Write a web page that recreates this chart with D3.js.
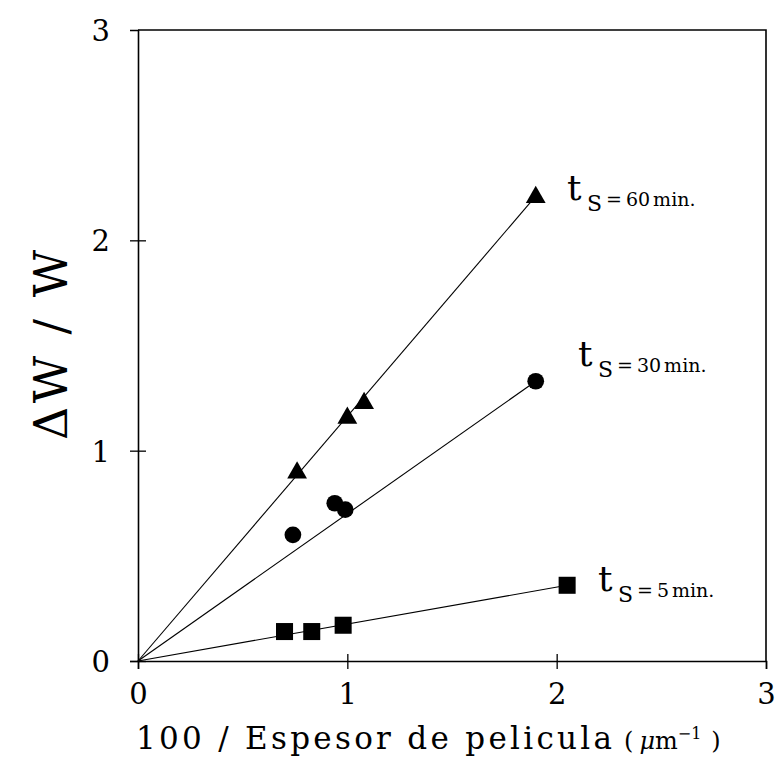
<!DOCTYPE html>
<html>
<head>
<meta charset="utf-8">
<script src="https://cdn.jsdelivr.net/npm/d3@7"></script>
<style>
  html, body { margin: 0; padding: 0; background: #fff; }
  svg text { font-family: "DejaVu Serif", "Liberation Serif", serif; fill: #000; }
</style>
</head>
<body>
<svg id="chart" width="780" height="779"></svg>
<script>
// Film thickness (100/µm) vs. relative weight gain for three soaking times
const xTicks = [0, 1, 2, 3];
const yTicks = [0, 1, 2, 3];

const seriesNames = ["60", "30", "5"];
const seriesShapes = ["triangle", "circle", "square"];

const x60 = [0.76, 1.00, 1.08, 1.90];
const y60 = [0.90, 1.16, 1.23, 2.21];

const x30 = [0.74, 0.94, 0.99, 1.90];
const y30 = [0.60, 0.75, 0.72, 1.33];

const x5 = [0.70, 0.83, 0.98, 2.05];
const y5 = [0.14, 0.14, 0.17, 0.36];

// fitted lines through the origin, drawn up to the last point of each series
const fitStart = [[0, 0], [0, 0], [0, 0]];
const fitEnd = [[1.90, 2.21], [1.90, 1.33], [2.05, 0.36]];

const seriesX = [x60, x30, x5];
const seriesY = [y60, y30, y5];

const svg = d3.select("#chart");
const x = d3.scaleLinear().domain([0, 3]).range([138, 766]);
const y = d3.scaleLinear().domain([0, 3]).range([661, 30]);

// frame
svg.append("path")
  .attr("d", `M${x(0)},${y(3)}H${x(3)}V${y(0)}`)
  .attr("fill", "none").attr("stroke", "#000").attr("stroke-width", 1.6);

// bottom axis with ticks crossing the line
const gx = svg.append("g").attr("transform", `translate(0,${y(0)})`)
  .call(d3.axisBottom(x).tickValues(xTicks).tickFormat(d3.format("d")).tickSize(8).tickPadding(14));
gx.select(".domain").attr("stroke-width", 1.6);
gx.selectAll(".tick line").attr("y1", -7).attr("y2", 8).attr("stroke-width", 1.3);
gx.selectAll(".tick text").style("font-size", "29px");

// left axis
const gy = svg.append("g").attr("transform", `translate(${x(0)},0)`)
  .call(d3.axisLeft(y).tickValues(yTicks).tickFormat(d3.format("d")).tickSize(8).tickPadding(20));
gy.select(".domain").attr("stroke-width", 1.6);
gy.selectAll(".tick line").attr("x1", 8).attr("x2", -8).attr("stroke-width", 1.3);
gy.selectAll(".tick text").style("font-size", "29px").attr("dy", "0.36em");
gy.selectAll(".tick").filter(d => d === 3).select("line").remove();
gx.selectAll(".tick").filter(d => d === 3).select("line").attr("y1", 0);

// fit lines
seriesNames.forEach((n, i) => {
  svg.append("line")
    .attr("x1", x(fitStart[i][0])).attr("y1", y(fitStart[i][1]))
    .attr("x2", x(fitEnd[i][0])).attr("y2", y(fitEnd[i][1]))
    .attr("stroke", "#000").attr("stroke-width", 1.1);
});

// markers
const symbolType = { triangle: d3.symbolTriangle, circle: d3.symbolCircle, square: d3.symbolSquare };
const symbolSize = { triangle: 170, circle: 220, square: 290 };
seriesNames.forEach((n, i) => {
  const pts = seriesX[i].map((v, j) => [v, seriesY[i][j]]);
  const shape = seriesShapes[i];
  svg.append("g").selectAll("path").data(pts).join("path")
    .attr("transform", d => `translate(${x(d[0])},${y(d[1]) + (shape === "triangle" ? 1 : 0)})`)
    .attr("d", d3.symbol().type(symbolType[shape]).size(symbolSize[shape]))
    .attr("fill", "#000");
});

// series labels "t_S = NN min."
const labelPos = [[567, 200], [578, 366], [598, 591]];
seriesNames.forEach((n, i) => {
  const [lx, ly] = labelPos[i];
  const t = svg.append("text").attr("x", lx).attr("y", ly);
  t.append("tspan").style("font-size", "36px").text("t");
  t.append("tspan").attr("x", lx + 20).attr("y", ly + 11).style("font-size", "22px").text("S");
  t.append("tspan").attr("x", lx + 39).attr("y", ly + 6).style("font-size", "19px").text("=");
  t.append("tspan").attr("dx", 4).style("font-size", "19px").text(n);
  t.append("tspan").attr("dx", 3).style("font-size", "19px").text("min.");
});

// axis titles
svg.append("text").attr("x", 136).attr("y", 749).style("font-size", "31px")
  .attr("textLength", 476).attr("lengthAdjust", "spacing")
  .text("100 / Espesor de pelicula");

const unit = svg.append("text").attr("x", 624).attr("y", 749).style("font-size", "24px");
unit.append("tspan").text("(");
unit.append("tspan").attr("dx", 6).style("font-style", "italic").text("μ");
unit.append("tspan").text("m");
unit.append("tspan").style("font-size", "16px").attr("dy", -10).text("−1");
unit.append("tspan").attr("dy", 10).attr("dx", 10).text(")");

svg.append("text")
  .attr("transform", "translate(67,345) rotate(-90)")
  .attr("text-anchor", "middle")
  .attr("textLength", 190).attr("lengthAdjust", "spacing")
  .style("font-size", "46px")
  .text("ΔW / W");
</script>
</body>
</html>
